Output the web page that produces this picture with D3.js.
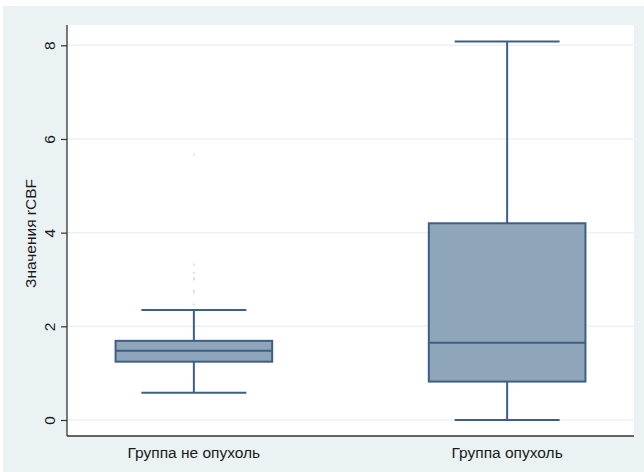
<!DOCTYPE html>
<html>
<head>
<meta charset="utf-8">
<script src="https://cdn.jsdelivr.net/npm/d3@7/dist/d3.min.js"></script>
<style>
  html, body { margin: 0; padding: 0; background: #ffffff; }
  svg { display: block; font-family: "Liberation Sans", Arial, sans-serif; }
</style>
</head>
<body>
<svg id="chart" width="644" height="472"></svg>
<script>
// Groups and box-plot summaries of rCBF values
const groups = ["Группа не опухоль", "Группа опухоль"];
const lowerWhisker = [0.58, 0.0];
const q1 = [1.245, 0.82];
const median = [1.48, 1.65];
const q3 = [1.69, 4.2];
const upperWhisker = [2.35, 8.08];
// Outlying observations (group index, value)
const outlierGroup = [0, 0, 0, 0, 0, 0, 0, 0];
const outlierValue = [5.67, 3.32, 3.15, 3.03, 3.0, 2.76, 2.72, 2.47];
const yTicks = [0, 2, 4, 6, 8];
const yTitle = "Значения rCBF";

const svg = d3.select("#chart");
const W = 644, H = 472;
const plot = { left: 67, right: 634, top: 25, bottom: 436 };

// outer graph region
svg.append("rect")
  .attr("x", 3).attr("y", 6)
  .attr("width", W - 3).attr("height", H - 6)
  .attr("fill", "#eaf2f3");

// plot region
svg.append("rect")
  .attr("x", plot.left).attr("y", plot.top)
  .attr("width", plot.right - plot.left).attr("height", plot.bottom - plot.top)
  .attr("fill", "#ffffff");

const x = d3.scalePoint().domain(groups).range([plot.left, plot.right]).padding(0.405);
const y = d3.scaleLinear().domain([0, 8]).range([420, 45.3]);
const step = x.step();
const boxW = step * 0.5;
const capW = boxW * 0.67;

// horizontal grid lines
svg.append("g").selectAll("line").data(yTicks).join("line")
  .attr("x1", plot.left).attr("x2", plot.right)
  .attr("y1", d => y(d)).attr("y2", d => y(d))
  .attr("stroke", "#eaf2f3").attr("stroke-width", 1.5);

const stroke = "#3d5f86";
const fill = "#8ea5ba";

const boxes = svg.append("g").selectAll("g").data(groups).join("g");

// whisker stems
boxes.append("line")
  .attr("x1", d => x(d)).attr("x2", d => x(d))
  .attr("y1", (d, i) => y(q3[i])).attr("y2", (d, i) => y(upperWhisker[i]))
  .attr("stroke", stroke).attr("stroke-width", 2);
boxes.append("line")
  .attr("x1", d => x(d)).attr("x2", d => x(d))
  .attr("y1", (d, i) => y(q1[i])).attr("y2", (d, i) => y(lowerWhisker[i]))
  .attr("stroke", stroke).attr("stroke-width", 2);

// whisker caps
boxes.append("line")
  .attr("x1", d => x(d) - capW / 2).attr("x2", d => x(d) + capW / 2)
  .attr("y1", (d, i) => y(upperWhisker[i])).attr("y2", (d, i) => y(upperWhisker[i]))
  .attr("stroke", stroke).attr("stroke-width", 2);
boxes.append("line")
  .attr("x1", d => x(d) - capW / 2).attr("x2", d => x(d) + capW / 2)
  .attr("y1", (d, i) => y(lowerWhisker[i])).attr("y2", (d, i) => y(lowerWhisker[i]))
  .attr("stroke", stroke).attr("stroke-width", 2);

// interquartile boxes
boxes.append("rect")
  .attr("x", d => x(d) - boxW / 2)
  .attr("y", (d, i) => y(q3[i]))
  .attr("width", boxW)
  .attr("height", (d, i) => y(q1[i]) - y(q3[i]))
  .attr("fill", fill).attr("stroke", stroke).attr("stroke-width", 2);

// medians
boxes.append("line")
  .attr("x1", d => x(d) - boxW / 2).attr("x2", d => x(d) + boxW / 2)
  .attr("y1", (d, i) => y(median[i])).attr("y2", (d, i) => y(median[i]))
  .attr("stroke", stroke).attr("stroke-width", 2);

// outliers
svg.append("g").selectAll("circle").data(outlierValue).join("circle")
  .attr("cx", (d, i) => x(groups[outlierGroup[i]]))
  .attr("cy", d => y(d))
  .attr("r", 1)
  .attr("fill", "#d3dde8");

// y axis
const yAxis = svg.append("g")
  .attr("transform", `translate(${plot.left},0)`)
  .call(d3.axisLeft(y).tickValues(yTicks).tickSize(6).tickSizeOuter(0).tickPadding(0).tickFormat(d3.format("d")));
yAxis.select(".domain").remove();
yAxis.selectAll(".tick line").attr("stroke", "#333").attr("stroke-width", 1.2);
yAxis.selectAll(".tick text")
  .attr("transform", "translate(-17,0) rotate(-90)")
  .attr("x", 0).attr("y", 0).attr("dy", "0.35em")
  .attr("text-anchor", "middle")
  .attr("fill", "#1a1a1a").style("font-size", "15.5px");

// axis lines
svg.append("line")
  .attr("x1", plot.left).attr("x2", plot.left)
  .attr("y1", plot.top).attr("y2", plot.bottom)
  .attr("stroke", "#333").attr("stroke-width", 1.3);
svg.append("line")
  .attr("x1", plot.left).attr("x2", plot.right)
  .attr("y1", plot.bottom).attr("y2", plot.bottom)
  .attr("stroke", "#333").attr("stroke-width", 1.6);

// x category labels
svg.append("g").selectAll("text").data(groups).join("text")
  .attr("x", d => x(d)).attr("y", 458)
  .attr("text-anchor", "middle")
  .attr("fill", "#1a1a1a").style("font-size", "15.5px")
  .text(d => d);

// y title
svg.append("text")
  .attr("transform", `translate(36,${(plot.top + plot.bottom) / 2 + 3}) rotate(-90)`)
  .attr("text-anchor", "middle")
  .attr("fill", "#1a1a1a").style("font-size", "15.5px")
  .text(yTitle);
</script>
</body>
</html>
